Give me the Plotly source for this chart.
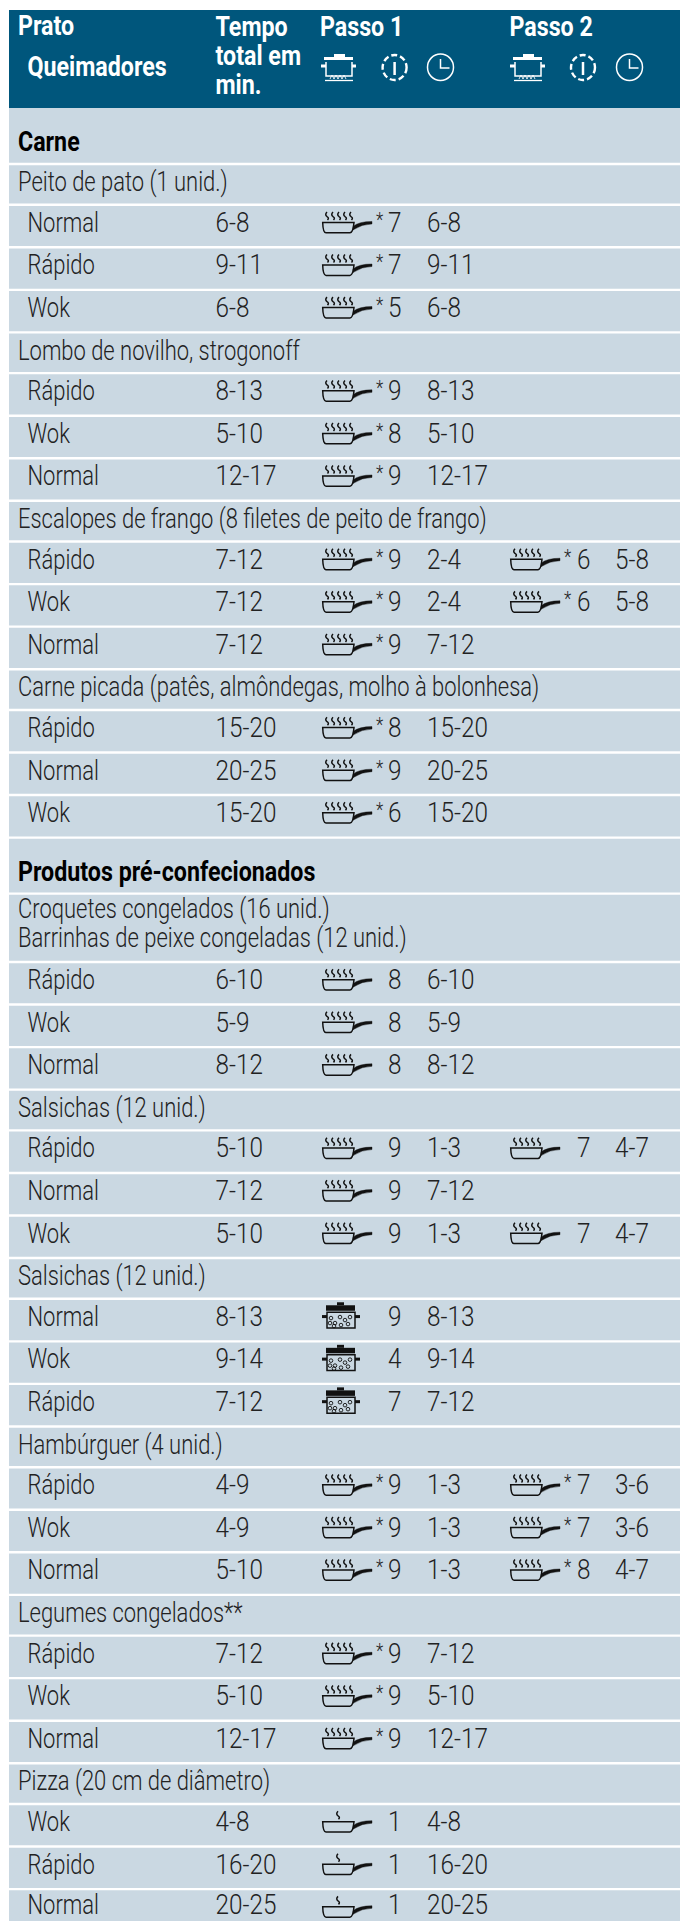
import plotly.graph_objects as go

FONT = "Roboto"
HEADER = "#00567c"
BG = "#cad8e2"
INK = "#222222"
SIZE = 27

kinds = ["G","S","R","R","R","S","R","R","R","S","R","R","R","S","R","R","R",
         "G","S2","R","R","R","S","R","R","R","S","R","R","R","S","R","R","R","S","R","R","R","S","R","R","R"]
labels = ["Carne","Peito de pato (1 unid.)","Normal","Rápido","Wok",
          "Lombo de novilho, strogonoff","Rápido","Wok","Normal",
          "Escalopes de frango (8 filetes de peito de frango)","Rápido","Wok","Normal",
          "Carne picada (patês, almôndegas, molho à bolonhesa)","Rápido","Normal","Wok",
          "Produtos pré-confecionados","Croquetes congelados (16 unid.)|Barrinhas de peixe congeladas (12 unid.)",
          "Rápido","Wok","Normal",
          "Salsichas (12 unid.)","Rápido","Normal","Wok",
          "Salsichas (12 unid.)","Normal","Wok","Rápido",
          "Hambúrguer (4 unid.)","Rápido","Wok","Normal",
          "Legumes congelados**","Rápido","Wok","Normal",
          "Pizza (20 cm de diâmetro)","Wok","Rápido","Normal"]
totals = ["","","6-8","9-11","6-8","","8-13","5-10","12-17","","7-12","7-12","7-12","","15-20","20-25","15-20",
          "","","6-10","5-9","8-12","","5-10","7-12","5-10","","8-13","9-14","7-12","","4-9","4-9","5-10",
          "","7-12","5-10","12-17","","4-8","16-20","20-25"]
icon1 = ["","","pan","pan","pan","","pan","pan","pan","","pan","pan","pan","","pan","pan","pan",
         "","","pan","pan","pan","","pan","pan","pan","","pot","pot","pot","","pan","pan","pan",
         "","pan","pan","pan","","low","low","low"]
star1 = ["","","*","*","*","","*","*","*","","*","*","*","","*","*","*",
         "","","","","","","","","","","","","","","*","*","*","","*","*","*","","","",""]
level1 = ["","","7","7","5","","9","8","9","","9","9","9","","8","9","6",
          "","","8","8","8","","9","9","9","","9","4","7","","9","9","9","","9","9","9","","1","1","1"]
time1 = ["","","6-8","9-11","6-8","","8-13","5-10","12-17","","2-4","2-4","7-12","","15-20","20-25","15-20",
         "","","6-10","5-9","8-12","","1-3","7-12","1-3","","8-13","9-14","7-12","","1-3","1-3","1-3",
         "","7-12","5-10","12-17","","4-8","16-20","20-25"]
icon2 = {10:"pan",11:"pan",23:"pan",25:"pan",31:"pan",32:"pan",33:"pan"}
star2 = {10:"*",11:"*",31:"*",32:"*",33:"*"}
level2 = {10:"6",11:"6",23:"7",25:"7",31:"7",32:"7",33:"8"}
time2 = {10:"5-8",11:"5-8",23:"4-7",25:"4-7",31:"3-6",32:"3-6",33:"4-7"}

heights = {"G":56,"S":40.75,"S2":68.4,"R":42.55}
top = 108.0
edges = [top]
for k in kinds:
    edges.append(edges[-1] + heights[k])
centers = [(a+b)/2 for a,b in zip(edges[:-1],edges[1:])]
LAST = len(kinds)-1

def off(i):
    return -3.5 if i == LAST else -1

X_LABEL, X_SUB, X_TOTAL = 18, 27.5, 215.5
X_ICON1, X_STAR1, X_LEVEL1, X_TIME1 = 322, 376, 388, 427
X_ICON2, X_STAR2, X_LEVEL2, X_TIME2 = 510, 564, 577, 615
LEFT = 9

fig = go.Figure()
shapes = []
shapes.append(dict(type="rect", x0=LEFT, x1=680, y0=108, y1=1921, fillcolor=BG, line_width=0, layer="below"))
shapes.append(dict(type="rect", x0=LEFT, x1=680, y0=10, y1=108, fillcolor=HEADER, line_width=0, layer="below"))
for e in edges[1:-1]:
    shapes.append(dict(type="line", x0=LEFT, x1=680, y0=e, y1=e, line=dict(color="white", width=2.4), layer="below"))

def pan(x, cy, steam=5, color="#111"):
    out = []
    t, b = cy-3.6, cy+6.8
    body = f"M{x+.7},{t} L{x+32},{t} Q{x+31},{b} {x+28},{b} L{x+4},{b} Q{x+1},{b} {x+.7},{t} Z"
    out.append(dict(type="path", path=body, line=dict(color=color,width=1.5), fillcolor="rgba(0,0,0,0)"))
    h = f"M{x+31},{t+4} Q{x+37},{t-1} {x+50},{t-1} L{x+50},{t+1.5} Q{x+40},{t+1.5} {x+31},{t+7.5} Z"
    out.append(dict(type="path", path=h, line=dict(color=color,width=0.4), fillcolor=color))
    xs = [x+5+i*6 for i in range(5)] if steam==5 else [x+16]
    for sx in xs:
        s = f"M{sx},{cy-14} Q{sx-2.5},{cy-11.5} {sx},{cy-9.5} Q{sx+2.5},{cy-8} {sx+.5},{cy-6}"
        out.append(dict(type="path", path=s, line=dict(color=color,width=1.5)))
    return out

def pot(x, cy, color="#111"):
    out = []
    out.append(dict(type="rect", x0=x+4, x1=x+33, y0=cy-14.8, y1=cy-9.3, fillcolor=color, line_width=0))
    out.append(dict(type="rect", x0=x+15, x1=x+22, y0=cy-17.8, y1=cy-14.8, fillcolor=color, line_width=0))
    out.append(dict(type="rect", x0=x+5, x1=x+33, y0=cy-7.8, y1=cy+8, line=dict(color=color,width=1.5)))
    out.append(dict(type="rect", x0=x, x1=x+5, y0=cy-5, y1=cy-2, fillcolor=color, line_width=0))
    out.append(dict(type="rect", x0=x+33, x1=x+38, y0=cy-5, y1=cy-2, fillcolor=color, line_width=0))
    for dx,dy in [(9,-2),(13,3),(18,-3),(23,0),(28,-3),(12,6),(19,5),(26,4),(8,3)]:
        out.append(dict(type="circle", x0=x+dx-1.8, x1=x+dx+1.8, y0=cy+dy-1.8, y1=cy+dy+1.8, line=dict(color=color,width=0.9)))
    return out

icons = {"pan":pan, "pot":pot, "low":lambda x,c: pan(x,c,steam=1)}
for i,ic in enumerate(icon1):
    if ic: shapes += icons[ic](X_ICON1, centers[i])
for i,ic in icon2.items():
    shapes += icons[ic](X_ICON2, centers[i])

def head_pot(x):
    c="white"; o=[]
    o.append(dict(type="rect", x0=x+3, x1=x+32, y0=57, y1=60, fillcolor=c, line_width=0))
    o.append(dict(type="rect", x0=x+13, x1=x+24, y0=54, y1=57, fillcolor=c, line_width=0))
    o.append(dict(type="path", path=f"M{x+5},62 L{x+5},76 L{x+31},76 L{x+31},62", line=dict(color=c,width=1.5)))
    o.append(dict(type="rect", x0=x, x1=x+5, y0=64.5, y1=67.5, fillcolor=c, line_width=0))
    o.append(dict(type="rect", x0=x+31, x1=x+35, y0=64.5, y1=67.5, fillcolor=c, line_width=0))
    o.append(dict(type="line", x0=x+4, x1=x+32, y0=80.5, y1=80.5, line=dict(color=c,width=1.3)))
    o.append(dict(type="path", path=f"M{x+9},79 L{x+11},75 L{x+13},79 L{x+15},75 L{x+17},79 L{x+19},75 L{x+21},79 L{x+23},75 L{x+25},79", line=dict(color=c,width=0.9)))
    return o
def head_knob(cx):
    c="white"
    return [dict(type="circle", x0=cx-12, x1=cx+12, y0=55, y1=80, line=dict(color=c,width=2.4,dash="6px,3px")),
            dict(type="line", x0=cx, x1=cx, y0=62, y1=75, line=dict(color=c,width=2.5))]
def head_clock(cx):
    c="white"
    return [dict(type="circle", x0=cx-13, x1=cx+13, y0=54, y1=80.5, line=dict(color=c,width=1.5)),
            dict(type="path", path=f"M{cx},59 L{cx},68 L{cx+9},68", line=dict(color=c,width=1.5))]
for px,kx,cx in [(321,394.6,440.5),(510,583,629.5)]:
    shapes += head_pot(px)+head_knob(kx)+head_clock(cx)

def add_text(xs, ys, ts, size=SIZE, color=INK, weight=300):
    fig.add_trace(go.Scatter(x=xs, y=ys, text=ts, mode="text", textposition="middle right",
                             textfont=dict(family=FONT, size=size, color=color, weight=weight),
                             hoverinfo="skip", showlegend=False))

gx,gy,gt,sx,sy,st,rx,ry,rt = [],[],[],[],[],[],[],[],[]
for i,(k,l) in enumerate(zip(kinds,labels)):
    if k=="G":
        gx.append(X_LABEL); gy.append(centers[i]+8.5); gt.append(l)
    elif k=="S":
        sx.append(X_LABEL); sy.append(centers[i]+0); st.append(l)
    elif k=="S2":
        for j,part in enumerate(l.split("|")):
            sx.append(X_LABEL); sy.append(centers[i]-16.5+28.5*j); st.append(part)
    else:
        rx.append(X_SUB); ry.append(centers[i]+off(i)); rt.append(l)
add_text(gx,gy,gt,color="#000",weight=700)
add_text(sx,sy,st)
add_text(rx,ry,rt)
for x,vals in [(X_TOTAL,totals),(X_LEVEL1,level1),(X_TIME1,time1)]:
    idx=[i for i,v in enumerate(vals) if v]
    add_text([x]*len(idx),[centers[i]+off(i) for i in idx],[vals[i] for i in idx])
idx=[i for i,v in enumerate(star1) if v]
add_text([X_STAR1]*len(idx),[centers[i]-4.5 for i in idx],[star1[i] for i in idx],size=21)
for x,d,o,s in [(X_LEVEL2,level2,-1,SIZE),(X_TIME2,time2,-1,SIZE),(X_STAR2,star2,-4.5,21)]:
    idx=list(d)
    add_text([x]*len(idx),[centers[i]+o for i in idx],[d[i] for i in idx],size=s)

add_text([X_LABEL,X_SUB],[28.5,69],["Prato","Queimadores"],color="white",weight=700)
add_text([215.5,215.5,215.5],[29,58,87],["Tempo","total em","min."],color="white",weight=700)
add_text([320,509.5],[29,29],["Passo 1","Passo 2"],color="white",weight=700)

fig.update_layout(width=680, height=1921, margin=dict(l=0,r=0,t=0,b=0),
    paper_bgcolor="white", plot_bgcolor="white", shapes=shapes,
    xaxis=dict(range=[0,680], visible=False, fixedrange=True),
    yaxis=dict(range=[1921,0], visible=False, fixedrange=True))
post = """
document.body.style.margin='0';document.documentElement.style.overflow='hidden';
document.querySelectorAll('.textpoint text').forEach(function(t){
  var w=String(t.style.fontWeight||t.getAttribute('font-weight'));
  var s=t.textContent;
  var k=(w==='700'||w==='bold')?0.86:(/^[0-9-]+$/.test(s)?0.90:0.813);
  t.setAttribute('textLength',t.getComputedTextLength()*k);
  t.setAttribute('lengthAdjust','spacingAndGlyphs');
});
"""
fig.write_html("out.html", config=dict(displayModeBar=False), post_script=post)
